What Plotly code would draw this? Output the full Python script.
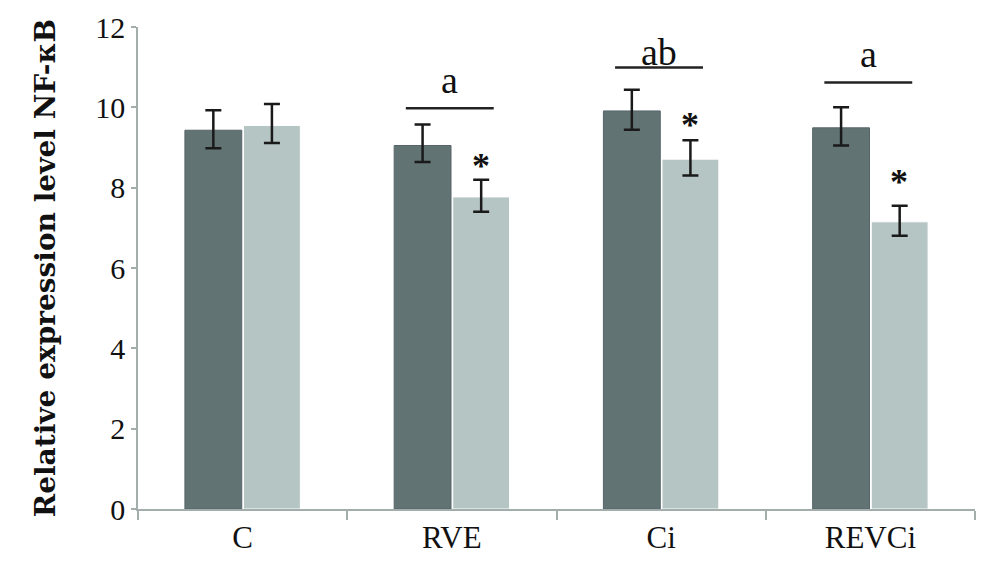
import plotly.graph_objects as go

categories = ["C", "RVE", "Ci", "REVCi"]
dark_values = [9.43, 9.05, 9.91, 9.49]
dark_err_plus = [0.50, 0.52, 0.53, 0.51]
dark_err_minus = [0.45, 0.41, 0.47, 0.44]
light_values = [9.55, 7.77, 8.71, 7.15]
light_err_plus = [0.53, 0.43, 0.47, 0.40]
light_err_minus = [0.44, 0.37, 0.41, 0.35]

sig_labels = ["", "a", "ab", "a"]
sig_line_y = [None, 9.98, 10.99, 10.62]
sig_text_y = [None, 10.67, 11.37, 11.34]
star_flags = [False, True, True, True]
star_y = [None, 8.55, 9.55, 8.14]

FONT = "Liberation Serif"

fig = go.Figure()
fig.add_trace(go.Bar(
    x=categories, y=dark_values,
    marker=dict(color="#627374", line=dict(color="#56656a", width=1)),
    error_y=dict(type="data", symmetric=False, array=dark_err_plus,
                 arrayminus=dark_err_minus, color="#1a1a1a", thickness=2.5, width=8),
    showlegend=False,
))
fig.add_trace(go.Bar(
    x=categories, y=light_values,
    marker=dict(color="#b5c5c3", line=dict(color="#ffffff", width=1)),
    error_y=dict(type="data", symmetric=False, array=light_err_plus,
                 arrayminus=light_err_minus, color="#1a1a1a", thickness=2.5, width=8),
    showlegend=False,
))

light_offset = 0.138
for i, cat in enumerate(categories):
    if sig_line_y[i] is not None:
        fig.add_shape(type="line", xref="x", yref="y",
                      x0=i - 0.22, x1=i + 0.2, y0=sig_line_y[i], y1=sig_line_y[i],
                      line=dict(color="#222222", width=2.5))
        fig.add_annotation(x=i - 0.01, y=sig_text_y[i], xref="x", yref="y",
                           text=sig_labels[i], showarrow=False,
                           font=dict(family=FONT, size=38, color="#111111"))
    if star_flags[i]:
        fig.add_annotation(x=i + light_offset, y=star_y[i], xref="x", yref="y",
                           text="<b>*</b>", showarrow=False,
                           font=dict(family=FONT, size=36, color="#111111"))

fig.update_layout(
    width=1000, height=578,
    paper_bgcolor="white", plot_bgcolor="white",
    barmode="group", bargap=0.44, bargroupgap=0.03,
    margin=dict(l=130, r=33, t=19, b=77),
    font=dict(family=FONT, color="#111111"),
    xaxis=dict(
        type="category", tickson="boundaries", ticks="outside", ticklen=9,
        tickcolor="#a3aeac", tickwidth=1.5,
        showline=True, linecolor="#a3aeac", linewidth=1.5,
        tickfont=dict(family=FONT, size=31),
        range=[-0.5, 3.5], automargin=False,
    ),
    yaxis=dict(
        range=[0, 12], tickvals=[0, 2, 4, 6, 8, 10, 12],
        ticks="outside", ticklen=5, tickcolor="#a3aeac", tickwidth=1.5,
        showline=True, linecolor="#a3aeac", linewidth=1.5,
        showgrid=False, zeroline=False, automargin="left",
        tickfont=dict(family=FONT, size=30),
        title=dict(text="<b>Relative expression level NF-κB</b>",
                   font=dict(family="DejaVu Serif", size=28), standoff=31),
    ),
)

fig.write_html("out.html")
